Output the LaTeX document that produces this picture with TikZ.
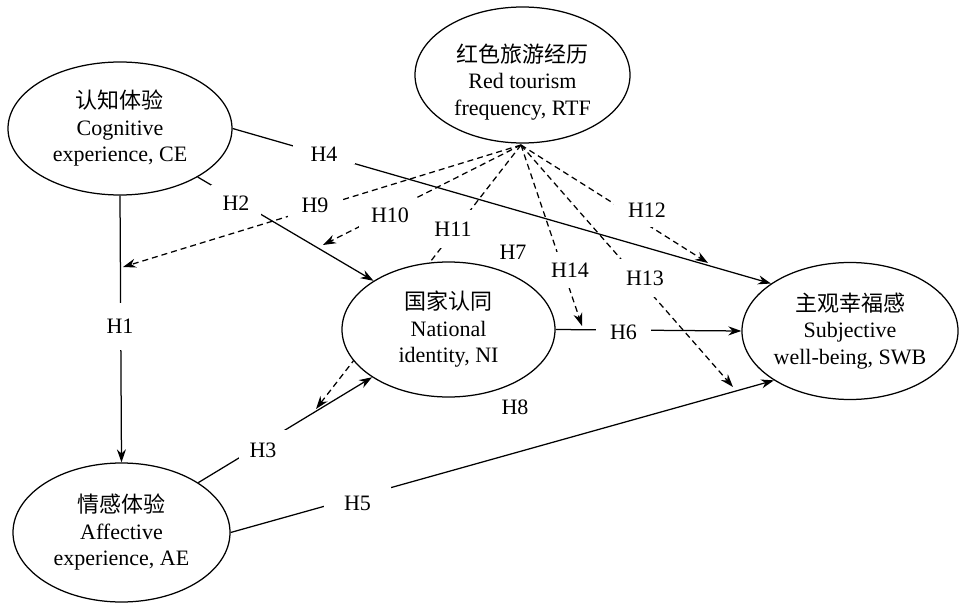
\documentclass[tikz,border=0pt]{standalone}
\usepackage{fontspec}
\setmainfont{Liberation Serif}
\newfontfamily\cjk{Noto Sans CJK SC}
\usetikzlibrary{arrows.meta,backgrounds,shapes.geometric}
\begin{document}
\begin{tikzpicture}[x=1pt,y=-1pt,
  every node/.style={font=\fontsize{22}{26.5}\selectfont},
  var/.style={ellipse, draw, line width=1.25pt, fill=white, inner sep=0pt, align=center},
  conn/.style={line width=1.25pt},
  arr/.style={conn, -{Stealth[length=13pt,width=9pt]}},
  mod/.style={arr, dash pattern=on 6pt off 4pt},
  hl/.style={fill=white, inner sep=0pt},
  plainlab/.style={inner sep=0pt}]
\useasboundingbox (0,0) rectangle (962,607);
% variables
\node[var, minimum width=224pt, minimum height=133pt] (CE) at (120,128.5) {{\cjk 认知体验}\\Cognitive\\experience, CE};
\node[var, minimum width=215pt, minimum height=136pt] (RTF) at (522.5,75) {\rule{0pt}{32pt}{\cjk 红色旅游经历}\\Red tourism\\frequency, RTF};
\node[var, minimum width=213pt, minimum height=135pt] (NI) at (448.5,329.5) {{\cjk 国家认同}\\National\\identity, NI};
\node[var, minimum width=215pt, minimum height=137pt] (SWB) at (850,331) {{\cjk 主观幸福感}\\Subjective\\well-being, SWB};
\node[var, minimum width=217pt, minimum height=139pt] (AE) at (121.5,532.5) {{\cjk 情感体验}\\Affective\\experience, AE};
% connectors
\begin{scope}[on background layer]
\coordinate (src) at (521,145);
\coordinate (m9) at (123,267);
\coordinate (m10) at (323,245);
\coordinate (m11) at (316,409);
\coordinate (m12) at (708,263);
\coordinate (m13) at (733,387);
\coordinate (m14) at (582,326);
\draw[arr] (CE.south) -- (AE.north);
\draw[arr] (CE.-32) -- (NI.147);
\draw[arr] (AE.33) -- (NI.212);
\draw[arr] (CE.east) -- (SWB.149);
\draw[arr] (AE.east) -- (SWB.213);
\draw[arr] (NI.east) -- (SWB.west);
\draw[mod] (src) -- (m9);
\draw[mod] (src) -- (m10);
\draw[mod] (src) -- (m11);
\draw[mod] (src) -- (m12);
\draw[mod] (src) -- (m13);
\draw[mod] (src) -- (m14);
\end{scope}
% labels
\node[hl, inner xsep=0pt, inner ysep=16pt] (h1) at (120,326.5) {H1};
\node[hl, inner xsep=11.5pt, inner ysep=10.5pt] (h2) at (236,203) {H2};
\node[hl, inner xsep=11pt, inner ysep=12.5pt] (h3) at (263,450) {H3};
\node[hl, inner xsep=18pt, inner ysep=3pt] (h4) at (324,154) {H4};
\node[hl, inner xsep=20pt, inner ysep=9pt] (h5) at (357.5,503.5) {H5};
\node[hl, inner xsep=14pt, inner ysep=3pt] (h6) at (623.5,332) {H6};
\node[plainlab] (h7) at (513,252) {H7};
\node[plainlab] (h8) at (515,407) {H8};
\node[hl, inner xsep=14pt, inner ysep=5pt] (h9) at (315,205) {H9};
\node[hl, inner xsep=12pt, inner ysep=10pt] (h10) at (390,215) {H10};
\node[hl, inner xsep=2pt, inner ysep=11.5pt] (h11) at (453,229) {H11};
\node[hl, inner xsep=14pt, inner ysep=10pt] (h12) at (647,210) {H12};
\node[hl, inner xsep=8pt, inner ysep=12pt] (h13) at (645,278) {H13};
\node[hl, inner xsep=3pt, inner ysep=10.5pt] (h14) at (570,270) {H14};
\end{tikzpicture}
\end{document}
